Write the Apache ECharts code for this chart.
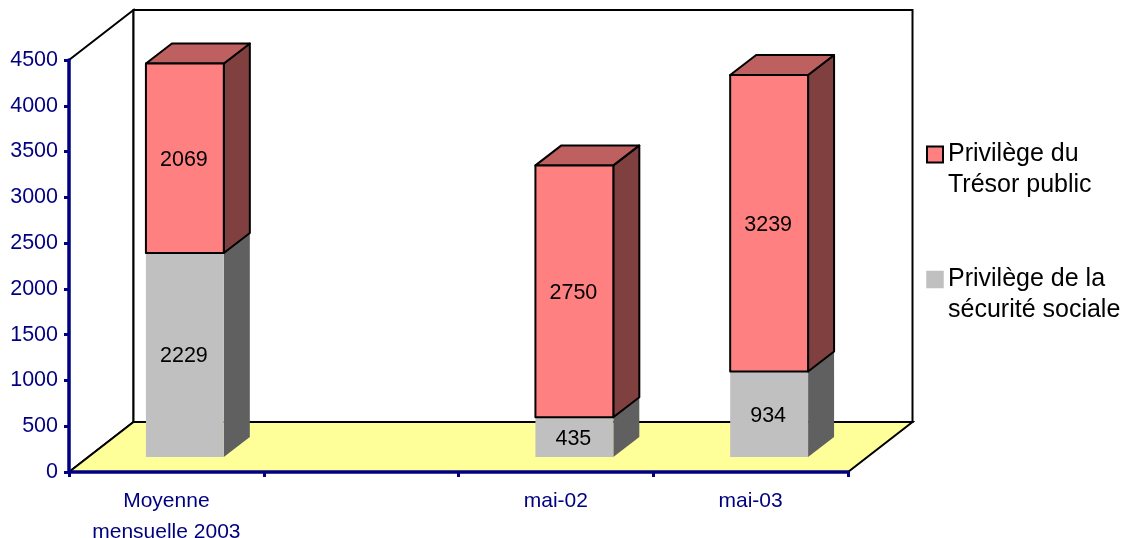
<!DOCTYPE html>
<html><head><meta charset="utf-8">
<style>html,body{margin:0;padding:0;background:#fff}#c{width:1122px;height:538px}</style>
<script src="https://cdn.jsdelivr.net/npm/echarts@6/dist/echarts.min.js"></script>
</head><body><div id="c"></div>
<script>
const categories = ['Moyenne\nmensuelle 2003', '', 'mai-02', 'mai-03'];
const securite = [2229, null, 435, 934];
const tresor = [2069, null, 2750, 3239];
const nameSecurite = 'Privilège de la\nsécurité sociale';
const nameTresor = 'Privilège du\nTrésor public';
const yTicks = [0, 4500, 500];

const FONT = 'Liberation Sans, Arial, sans-serif';
const WALL = [64.5, -50];    // depth of the floor/walls in pixels
const OFFSET = [18.5, -15];  // position of bars on the floor
const BAR = [26, -20];       // depth of each bar
const BAR_W = 0.4;

function rows(vals, base) {
  return vals.map((v, i) => v == null ? null : [i, base ? base[i] : 0, v]).filter(Boolean);
}
function poly(points, style) { return {type: 'polygon', shape: {points}, style}; }

function renderWalls(params, api) {
  const c = params.coordSys;
  const L = c.x, R = c.x + c.width, T = c.y, B = c.y + c.height;
  const dx = WALL[0], dy = WALL[1];
  const line = {stroke: '#000', lineWidth: 2};
  return {type: 'group', children: [
    poly([[L, T], [L + dx, T + dy], [L + dx, B + dy], [L, B]], {fill: '#fff', ...line}),
    poly([[L + dx, T + dy], [R + dx, T + dy], [R + dx, B + dy], [L + dx, B + dy]], {fill: '#fff', ...line}),
    poly([[L, B], [L + dx, B + dy], [R + dx, B + dy], [R, B]], {fill: '#FFFF99', ...line})
  ]};
}

function barRenderer(colors, outline) {
  return function (params, api) {
    const cat = api.value(0), base = api.value(1), val = api.value(2);
    const p0 = api.coord([cat, base]), p1 = api.coord([cat, base + val]);
    const w = api.size([1, 0])[0] * BAR_W;
    const x0 = p0[0] - w / 2 + OFFSET[0], x1 = x0 + w;
    const yb = p0[1] + OFFSET[1], yt = p1[1] + OFFSET[1];
    const dx = BAR[0], dy = BAR[1];
    const s = outline ? {stroke: '#000', lineWidth: 2, lineJoin: 'round'} : {};
    return {type: 'group', children: [
      poly([[x1, yb], [x1 + dx, yb + dy], [x1 + dx, yt + dy], [x1, yt]], {fill: colors.side, ...s}),
      poly([[x0, yt], [x0 + dx, yt + dy], [x1 + dx, yt + dy], [x1, yt]], {fill: colors.top, ...s}),
      poly([[x0, yb], [x0, yt], [x1, yt], [x1, yb]], {fill: colors.front, ...s}),
      {type: 'text', z2: 10, style: {text: String(val), x: (x0 + x1) / 2 - 1, y: (yb + yt) / 2 + 1.5,
        align: 'center', verticalAlign: 'middle', fill: '#000', font: '21.5px ' + FONT}}
    ]};
  };
}

const chart = echarts.init(document.getElementById('c'), null, {renderer: 'canvas'});
chart.setOption({
  animation: false,
  backgroundColor: '#fff',
  grid: {left: 69, right: 274, top: 60, bottom: 66, containLabel: false, outerBoundsMode: 'none'},
  legend: {
    orient: 'vertical', left: 921, top: 103, itemWidth: 16, itemHeight: 16, itemGap: 32,
    selectedMode: false,
    data: [
      {name: nameTresor, icon: 'rect', itemStyle: {color: '#FF8080', borderColor: '#000', borderWidth: 2}},
      {name: nameSecurite, icon: 'rect', itemStyle: {color: '#C0C0C0', borderColor: '#C0C0C0', borderWidth: 1.5}}
    ],
    formatter: n => ' \n' + n,
    textStyle: {fontFamily: FONT, fontSize: 25, lineHeight: 31, color: '#000'}
  },
  xAxis: {
    type: 'category', data: categories, z: 10,
    axisLine: {lineStyle: {color: '#000080', width: 3.5}},
    axisTick: {show: true, alignWithLabel: false, length: 5, lineStyle: {color: '#000080', width: 3}},
    axisLabel: {interval: 0, margin: 14, color: '#000080', fontFamily: FONT, fontSize: 21, lineHeight: 31},
    splitLine: {show: false}
  },
  yAxis: {
    type: 'value', min: yTicks[0], max: yTicks[1], interval: yTicks[2], z: 10,
    axisLine: {show: true, lineStyle: {color: '#000080', width: 3.5}},
    axisTick: {show: true, length: 5, lineStyle: {color: '#000080', width: 3}},
    axisLabel: {margin: 11, color: '#000080', fontFamily: FONT, fontSize: 21.5, formatter: v => String(v),
      verticalAlignMinLabel: 'middle', verticalAlignMaxLabel: 'middle'},
    splitLine: {show: false}
  },
  series: [
    {type: 'custom', name: 'walls', silent: true, z: 1, renderItem: renderWalls, data: [[0, 0, 0]],
      encode: {x: 0, y: 1}, clip: false},
    {type: 'custom', name: nameSecurite, z: 2, clip: false, encode: {x: 0, y: [1, 2]},
      itemStyle: {color: '#C0C0C0'},
      renderItem: barRenderer({front: '#C0C0C0', top: '#909090', side: '#606060'}, false),
      data: rows(securite)},
    {type: 'custom', name: nameTresor, z: 3, clip: false, encode: {x: 0, y: [1, 2]},
      itemStyle: {color: '#FF8080'},
      renderItem: barRenderer({front: '#FF8080', top: '#BF6060', side: '#804040'}, true),
      data: rows(tresor, securite)}
  ]
});
</script></body></html>
